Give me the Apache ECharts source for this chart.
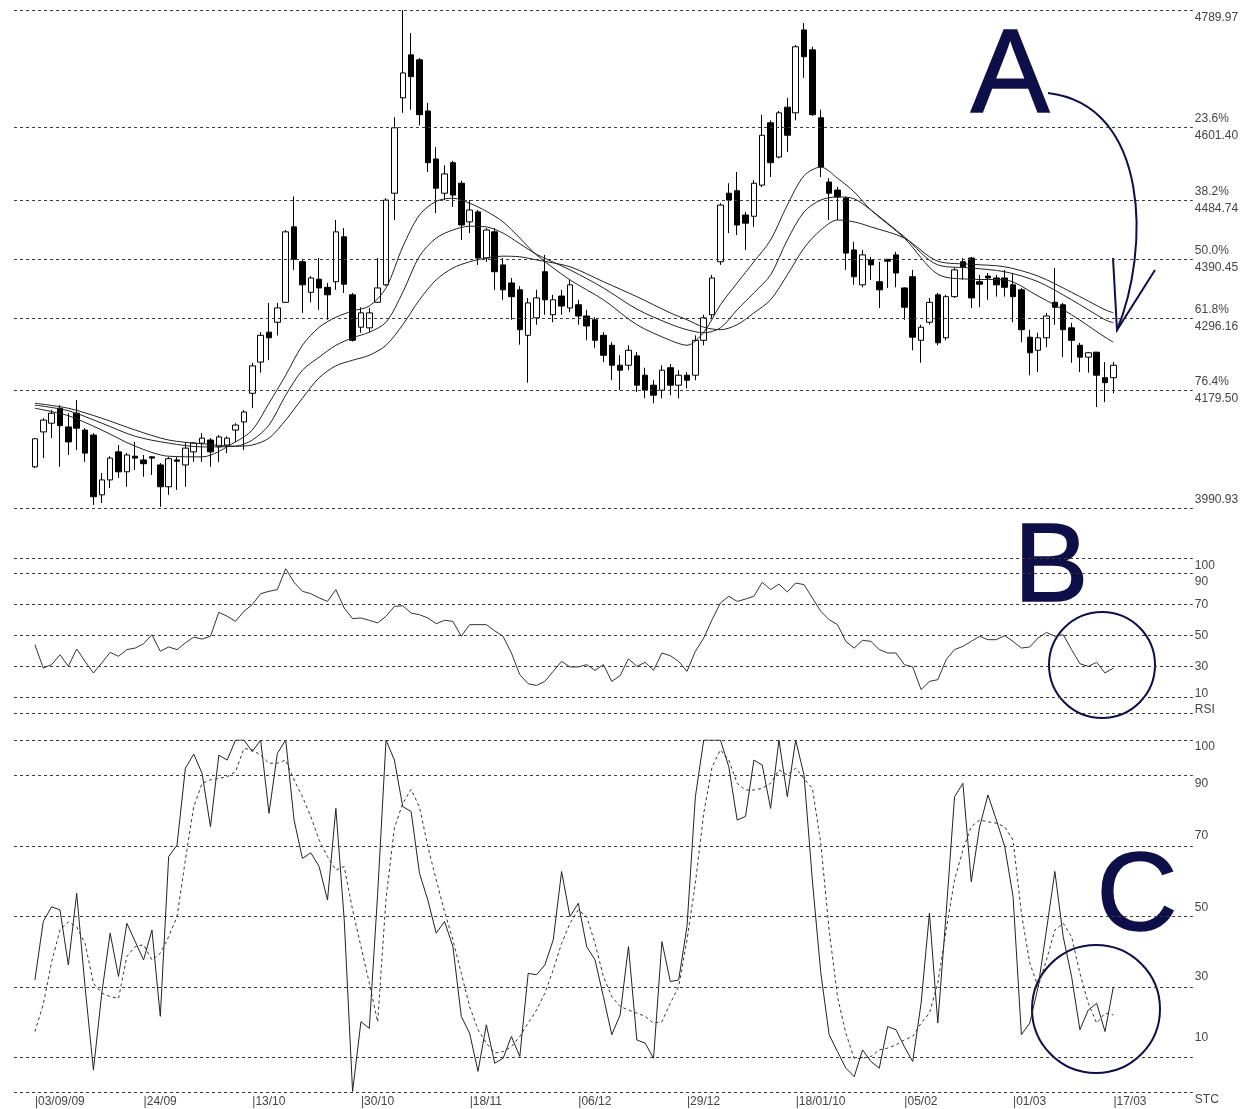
<!DOCTYPE html>
<html><head><meta charset="utf-8">
<script src="https://cdn.jsdelivr.net/npm/echarts@6/dist/echarts.min.js"></script>
<style>html,body{margin:0;padding:0;background:#fff}#c{width:1248px;height:1109px}</style>
</head><body><div id="c"></div>
<script>
// ---- categories / x tick labels ----
const dateLabels = ['03/09/09','24/09','13/10','30/10','18/11','06/12','29/12','18/01/10','05/02','01/03','17/03'];
const dateIdx = [0,13,26,39,52,65,78,91,104,117,129];

// ---- price candles (open, close, low, high) ----
const opens = [4057,4113,4127,4151,4121,4143,4116,4108,4012,4036,4081,4049,4074,4068,4073,4060,4025,4068,4060,4081,4095,4100,4089,4092,4116,4129,4175,4225,4273,4289,4321,4442,4386,4337,4358,4345,4354,4426,4333,4281,4280,4321,4349,4496,4649,4718,4710,4628,4551,4496,4545,4512,4450,4466,4392,4434,4381,4352,4341,4268,4296,4370,4301,4331,4312,4317,4299,4293,4268,4252,4220,4220,4235,4204,4188,4180,4216,4188,4204,4204,4260,4301,4386,4496,4500,4461,4459,4509,4609,4554,4634,4625,4758,4726,4617,4514,4501,4488,4405,4349,4389,4354,4390,4397,4344,4362,4260,4289,4333,4264,4330,4386,4392,4354,4363,4360,4360,4349,4341,4265,4244,4264,4321,4317,4280,4252,4233,4241,4200,4200];
const closes = [4102,4132,4143,4123,4097,4119,4079,4009,4036,4071,4049,4076,4071,4062,4071,4025,4070,4066,4087,4095,4103,4081,4105,4103,4124,4145,4219,4268,4264,4312,4434,4390,4349,4360,4344,4333,4434,4350,4260,4304,4304,4344,4485,4601,4689,4683,4622,4545,4504,4527,4493,4445,4469,4392,4437,4370,4341,4330,4277,4320,4328,4325,4325,4315,4349,4299,4283,4260,4236,4220,4212,4244,4188,4180,4172,4212,4188,4204,4196,4260,4296,4360,4477,4485,4445,4448,4512,4589,4545,4625,4589,4731,4715,4622,4538,4496,4490,4400,4362,4397,4381,4341,4387,4368,4313,4265,4281,4321,4256,4330,4373,4378,4328,4350,4360,4349,4345,4330,4277,4240,4264,4299,4313,4277,4260,4233,4240,4204,4192,4220];
const lows = [4055,4071,4103,4057,4076,4084,4065,3996,3999,4023,4039,4025,4052,4041,4044,3993,4012,4020,4025,4065,4065,4057,4065,4079,4097,4084,4151,4208,4228,4268,4320,4373,4304,4321,4309,4293,4341,4336,4258,4272,4273,4320,4347,4453,4625,4630,4605,4530,4464,4485,4474,4421,4432,4381,4386,4341,4325,4293,4253,4192,4285,4301,4289,4301,4305,4285,4260,4248,4225,4196,4180,4212,4177,4167,4159,4167,4172,4167,4183,4196,4252,4296,4381,4432,4429,4405,4442,4506,4522,4552,4562,4613,4681,4620,4522,4453,4453,4373,4349,4345,4357,4312,4344,4345,4293,4244,4224,4285,4252,4260,4328,4357,4312,4313,4325,4330,4330,4289,4257,4204,4209,4249,4285,4233,4224,4209,4208,4153,4161,4175];
const highs = [4103,4135,4148,4156,4143,4164,4119,4111,4047,4074,4092,4079,4097,4076,4074,4063,4073,4073,4097,4097,4111,4103,4108,4106,4127,4148,4224,4273,4320,4320,4437,4491,4389,4363,4392,4352,4453,4440,4336,4313,4312,4392,4488,4618,4790,4753,4713,4641,4570,4541,4548,4516,4485,4469,4440,4440,4392,4360,4347,4328,4341,4397,4333,4341,4357,4325,4309,4297,4273,4257,4236,4252,4241,4216,4196,4220,4222,4212,4209,4268,4301,4365,4480,4512,4530,4466,4517,4622,4613,4628,4649,4734,4769,4731,4630,4520,4506,4491,4418,4405,4394,4386,4390,4402,4345,4373,4285,4328,4336,4333,4376,4392,4394,4365,4368,4365,4373,4368,4344,4277,4272,4304,4376,4320,4288,4256,4241,4241,4225,4225];

// ---- moving averages (read at sampled candles) ----
const maIdx  = [0,4,8,12,16,20,24,26,28,30,32,34,36,38,40,42,44,46,48,50,52,54,56,58,60,64,68,72,76,78,80,82,84,86,88,90,92,94,96,98,100,104,108,112,116,120,124,128,129];
const maFast = [4151,4139,4116,4090,4074,4073,4097,4116,4159,4204,4252,4281,4297,4307,4315,4344,4410,4461,4483,4488,4480,4467,4450,4424,4397,4357,4325,4285,4260,4252,4273,4317,4352,4386,4421,4477,4524,4538,4520,4498,4469,4424,4366,4358,4357,4331,4301,4265,4257];
const maMid  = [4156,4147,4127,4106,4095,4089,4090,4100,4124,4172,4212,4233,4252,4264,4273,4289,4337,4395,4424,4437,4443,4442,4432,4415,4398,4373,4344,4310,4286,4277,4272,4280,4309,4336,4365,4421,4466,4485,4490,4487,4469,4426,4381,4376,4370,4354,4325,4293,4288];
const maSlow = [4159,4151,4135,4116,4100,4094,4090,4092,4103,4132,4167,4200,4219,4228,4236,4252,4285,4325,4357,4376,4386,4392,4395,4394,4389,4378,4354,4330,4304,4293,4281,4277,4285,4304,4325,4365,4408,4437,4453,4450,4442,4424,4387,4382,4378,4363,4337,4309,4304];

// ---- Fibonacci levels ----
const fibLevels = [4789.97,4601.40,4484.74,4390.45,4296.16,4179.50,3990.93];
const fibTags   = ['','23.6%','38.2%','50.0%','61.8%','76.4%',''];

// ---- RSI ----
const rsi = [44.1,29,31.2,37.6,30.1,41.3,33.3,25.8,32.3,39.1,36.6,40.9,41.9,44.7,50.5,39.8,42.6,40.9,45.2,49,47.7,49.5,65,62.4,59.1,65.6,69.9,77,78.5,79.6,93.1,84.3,78.5,77,74.2,72,79.6,67.7,60.9,61.3,59.8,58.1,62.4,68.8,69.2,64.5,63.4,61.3,57.6,59.8,59.1,49.5,57,57,57,53,49.5,38.7,24.7,18.9,17.8,20.4,26.9,33.3,29.7,29.7,31.2,27.5,31.2,20.4,24.1,35,30.1,32.7,27.5,38.7,37,33.3,26.9,39.8,48.4,60.2,71,75.3,72,73.5,75.3,84.3,79.6,83.2,78.1,83.9,82.8,74.2,65.6,60.2,57,46.2,41.9,46.9,46.2,40.9,38.7,38.7,31.2,29.7,15.1,20.4,21.5,34.4,40.9,43,46.2,49.5,47.3,47.3,49.9,46.2,41.9,42.6,48.4,52,49.5,50.5,40.9,31.8,30.1,32.7,25.8,29];
const rsiLevels = [100,90,70,50,30,10,0];
const rsiTags   = ['100','90','70','50','30','10','RSI'];

// ---- Stochastic ----
const stochK = [31.9,48.5,52.7,51.8,36.2,56.5,30,6.4,28.2,45.2,32.9,48,42.8,37.6,46.1,21.6,66.9,70.2,92,96,90.5,75.4,95.7,94.3,100,100,96.7,100,79.2,96.2,100,77.3,66.4,68,64.1,54.6,80.6,49,0.3,20.1,18.2,56.5,100,94.3,81.1,79.7,62.2,54.6,45.2,48.5,41.4,21.6,16.8,6,19.2,8.3,9.7,15.9,10.2,33.8,33.4,36.2,43.3,62.7,49.9,53.7,41.4,37.6,27.2,16.4,22,41.4,14.9,14,9.7,42.8,31.5,31.9,47.1,83.9,100,100,100,92.4,77.3,78.3,94.3,92.9,80.6,100,83.9,100,90,60,34,16.4,11.6,6.9,4.5,12.1,8.8,6.9,18.7,17.8,13,8.8,25.3,50.9,19.7,50.9,83.9,87.7,59.8,75.4,84.4,77.3,69.8,55.6,16.4,19.7,30,46.1,62.7,44.2,32.9,17.8,23.4,25.3,17.3,30];
const stochD = [17.3,25,37,46.1,48.4,47,42.3,31,28.2,27.2,26.7,38.6,41.4,41.9,37.6,39.5,44.2,49.9,66,81.1,87.7,88.7,89.1,89.6,91,97.6,97.2,95.7,93.4,93.4,94.3,88.7,83.9,78.3,71.6,66.9,63.1,64.1,51.8,41.4,31,20,55,75,82,86,81,69.8,60.3,51.3,43.3,33.8,24.4,17.8,14,11.2,11.6,13,15.9,19.7,23.4,28.2,34.8,42.3,48,51.8,49.9,42.3,32.9,27.2,24.4,23.4,22.5,21.6,19.7,20.1,25.3,30,43.3,59.4,79.2,92.4,97.2,94.3,87.7,85.8,85.8,86.3,87.7,91.5,90.1,92,89,86.3,70.7,46.1,27.2,16.8,9.7,9.7,10.2,12.1,12.6,13.5,14.9,15.9,19.7,22.5,31,46.1,60.3,68.8,75.4,77.3,76.8,76.4,75.4,71.6,50.9,36.7,30,37.6,46.1,48,44.2,33.8,25.3,19.7,22.5,22];
const stcLevels = [100,90,70,50,30,10,0];
const stcTags   = ['100','90','70','50','30','10','STC'];

// ---- build options ----
const FONT = '"Liberation Sans Narrow", "Liberation Sans", Arial, sans-serif';
const PAD = 2, M = 141;
const cats = Array.from({length: M}, (_, k) => String(k));
const labelAt = {};
dateIdx.forEach((d, j) => { labelAt[d + PAD] = dateLabels[j]; });
const pad = arr => Array(PAD).fill('-').concat(arr);
const candleData = pad(opens.map((o, k) => [o, closes[k], lows[k], highs[k]]));
const maSeries = arr => maIdx.map((k, j) => [k + PAD, arr[j]]);

const fibOff = [8, 0, 0, 0, 0, 0, -8];
const rsiOff = [8, 8, 0, 0, 0, -4, -3];
const stcOff = [7, 8, -10, -9, -10, -20, 7];

function levelLines(levels, tags, offs, fmt) {
  return {
    silent: true, symbol: ['none', 'none'], animation: false,
    lineStyle: { type: [3, 3], color: '#3a3a3a', width: 1 },
    label: { show: true, position: 'end', distance: 2, color: '#444', fontFamily: FONT, fontSize: 12, lineHeight: 17, align: 'left' },
    emphasis: { disabled: true },
    data: levels.map((v, k) => ({
      yAxis: v,
      label: { formatter: fmt(v, k), offset: [0, offs[k]] }
    }))
  };
}

const grids = [
  { left: 14, right: 55.2, top: 10, height: 498 },
  { left: 14, right: 55.2, top: 558, height: 155 },
  { left: 14, right: 55.2, top: 740, height: 352.5 }
];
const xAxes = grids.map((g, gi) => ({
  type: 'category', gridIndex: gi, data: cats, boundaryGap: true,
  axisLine: { show: false }, axisTick: { show: false }, splitLine: { show: false },
  axisLabel: gi === 2 ? {
    show: true, margin: 3, align: 'left', color: '#444', fontFamily: FONT, fontSize: 12,
    interval: (idx) => labelAt[idx] !== undefined,
    formatter: (val, idx) => labelAt[idx] !== undefined ? '|' + labelAt[idx] : ''
  } : { show: false }
}));
const yAxes = [
  { type: 'value', gridIndex: 0, min: 3990.93, max: 4789.97, show: false, splitLine: { show: false } },
  { type: 'value', gridIndex: 1, min: 0, max: 100, show: false, splitLine: { show: false } },
  { type: 'value', gridIndex: 2, min: 0, max: 100, show: false, splitLine: { show: false } }
];

const maStyle = { color: '#222', width: 1 };
const NAVY = '#0e0e48';
const BIG = '"Liberation Sans", Arial, sans-serif';

const option = {
  animation: false,
  backgroundColor: '#fff',
  grid: grids, xAxis: xAxes, yAxis: yAxes,
  series: [
    {
      type: 'candlestick', xAxisIndex: 0, yAxisIndex: 0, data: candleData, barWidth: 6,
      itemStyle: { color: '#fff', color0: '#000', borderColor: '#000', borderColor0: '#000', borderColorDoji: '#000', borderWidth: 1 },
      markLine: levelLines(fibLevels, fibTags, fibOff, (v, k) => (fibTags[k] ? fibTags[k] + '\n' : '') + v.toFixed(2)),
      z: 3
    },
    { type: 'line', xAxisIndex: 0, yAxisIndex: 0, data: maSeries(maFast), symbol: 'none', smooth: 0.3, lineStyle: maStyle, z: 4 },
    { type: 'line', xAxisIndex: 0, yAxisIndex: 0, data: maSeries(maMid), symbol: 'none', smooth: 0.3, lineStyle: maStyle, z: 4 },
    { type: 'line', xAxisIndex: 0, yAxisIndex: 0, data: maSeries(maSlow), symbol: 'none', smooth: 0.3, lineStyle: maStyle, z: 4 },
    {
      type: 'line', xAxisIndex: 1, yAxisIndex: 1, data: pad(rsi), symbol: 'none',
      lineStyle: { color: '#333', width: 1 },
      markLine: levelLines(rsiLevels, rsiTags, rsiOff, (v, k) => rsiTags[k])
    },
    {
      type: 'line', xAxisIndex: 2, yAxisIndex: 2, data: pad(stochK), symbol: 'none',
      lineStyle: { color: '#222', width: 1 },
      markLine: levelLines(stcLevels, stcTags, stcOff, (v, k) => stcTags[k])
    },
    {
      type: 'line', xAxisIndex: 2, yAxisIndex: 2, data: pad(stochD), symbol: 'none',
      lineStyle: { color: '#333', width: 1, type: [3, 3] }
    }
  ],
  graphic: [
    { type: 'text', x: 1010, y: 79, style: { text: 'A', font: '118px ' + BIG, fill: NAVY, stroke: NAVY, lineWidth: 1.5, align: 'center', verticalAlign: 'middle', textAlign: 'center', textVerticalAlign: 'middle' } },
    { type: 'text', x: 1051, y: 570, style: { text: 'B', font: '112px ' + BIG, fill: NAVY, stroke: NAVY, lineWidth: 1.5, align: 'center', verticalAlign: 'middle', textAlign: 'center', textVerticalAlign: 'middle' } },
    { type: 'text', x: 1137, y: 899, style: { text: 'C', font: '112px ' + BIG, fill: NAVY, stroke: NAVY, lineWidth: 1.5, align: 'center', verticalAlign: 'middle', textAlign: 'center', textVerticalAlign: 'middle' } },
    { type: 'bezierCurve', shape: { x1: 1048, y1: 93, cpx1: 1150, cpy1: 105, cpx2: 1150, cpy2: 250, x2: 1117, y2: 330 }, style: { stroke: NAVY, lineWidth: 2, fill: null } },
    { type: 'polyline', shape: { points: [[1113, 258], [1117, 330], [1155, 270]] }, style: { stroke: NAVY, lineWidth: 2, fill: null } },
    { type: 'circle', shape: { cx: 1102, cy: 665, r: 53 }, style: { stroke: NAVY, lineWidth: 2, fill: null } },
    { type: 'circle', shape: { cx: 1096, cy: 1009, r: 64 }, style: { stroke: NAVY, lineWidth: 2, fill: null } }
  ]
};

const chart = echarts.init(document.getElementById('c'), null, { renderer: 'canvas' });
chart.setOption(option);
</script>
</body></html>
